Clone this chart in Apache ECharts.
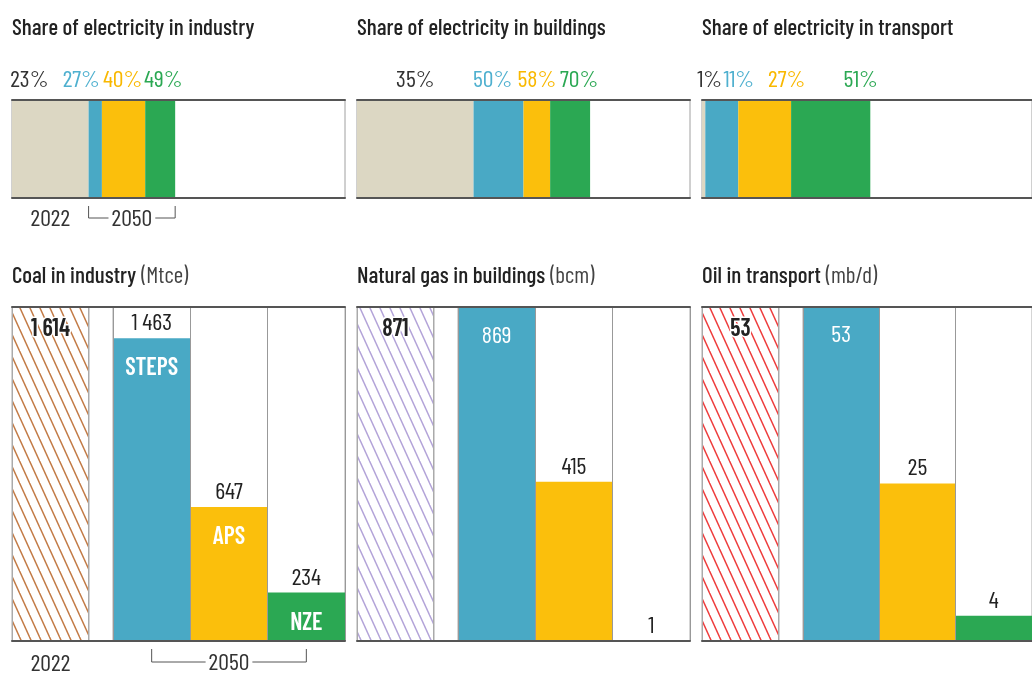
<!DOCTYPE html>
<html>
<head>
<meta charset="utf-8">
<script src="https://cdn.jsdelivr.net/npm/echarts@6/dist/echarts.min.js"></script>
<style>
  html, body { margin: 0; padding: 0; background: #fff; }
  #chart { width: 1032px; height: 677px; }
</style>
</head>
<body>
<div id="chart"></div>
<script>
// data
const scenarios = ['2022', 'STEPS', 'APS', 'NZE']
const shareTitles = ['Share of electricity in industry', 'Share of electricity in buildings', 'Share of electricity in transport']
const shareIndustry = [23, 27, 40, 49]
const shareBuildings = [35, 50, 58, 70]
const shareTransport = [1, 11, 27, 51]
const volTitles = ['Coal in industry', 'Natural gas in buildings', 'Oil in transport']
const volUnits = ['(Mtce)', '(bcm)', '(mb/d)']
const coalIndustry = [1614, 1463, 647, 234]
const gasBuildings = [871, 869, 415, 1]
const oilTransport = [53, 53, 25, 4]
const yearLabels = ['2022', '2050']

// styles
const FONT = "'Barlow Condensed', 'Roboto Condensed', 'DejaVu Sans Condensed', sans-serif"
const VAL = 24
const colors = ['#dcd7c3', '#49a9c5', '#fbbf0c', '#2ba853']
const labelColors = ['#333', '#4fb0cf', '#f9b800', '#2ba853']
const hatchColors = ['#c27a45', '#b3a3d8', '#ee3b3b']
const shareShift = [[-21, -14, -1, 3], [0, -6, 0, 9], [6, 17, 22, 30]]
const PW = 333
const panelLeft = (i) => 12 + i * 345

const shares = [shareIndustry, shareBuildings, shareTransport]
const volumes = [coalIndustry, gasBuildings, oilTransport]

function fmt(v) {
  return v >= 1000 ? Math.floor(v / 1000) + '\u2009' + String(v % 1000).padStart(3, '0') : String(v)
}

function hatch(color) {
  const c = document.createElement('canvas')
  c.width = 10
  c.height = 22
  const g = c.getContext('2d')
  g.strokeStyle = color
  g.lineWidth = 1.5
  for (const dx of [-10, 0, 10]) {
    g.beginPath()
    g.moveTo(dx - 1, -2.2)
    g.lineTo(dx + 11, 24.2)
    g.stroke()
  }
  return c
}

const grid = [], xAxis = [], yAxis = [], series = [], title = []
const addGrid = (o) => (grid.push(o), grid.length - 1)
const addX = (o) => (xAxis.push(o), xAxis.length - 1)
const addY = (o) => (yAxis.push(o), yAxis.length - 1)
const darkLine = { show: true, lineStyle: { color: '#555', width: 2 } }
const hidden = { axisTick: { show: false }, axisLabel: { show: false }, splitLine: { show: false } }

const refs = { top: [], bottom: [] }

for (let i = 0; i < 3; i++) {
  const L = panelLeft(i)
  const sh = shares[i]
  const v = volumes[i]

  title.push({
    left: L, top: 16, padding: 0, text: shareTitles[i],
    textStyle: { fontFamily: FONT, fontSize: 23, fontWeight: 500, color: '#222' },
  })
  title.push({
    left: L, top: 264, padding: 0, text: `{b|${volTitles[i]}} {n|${volUnits[i]}}`,
    textStyle: {
      rich: {
        b: { fontFamily: FONT, fontSize: 23, fontWeight: 500, color: '#222' },
        n: { fontFamily: FONT, fontSize: 23, fontWeight: 'normal', color: '#444' },
      },
    },
  })

  // share bar
  const g = addGrid({ left: L, top: 100, width: PW, height: 98, show: true, borderColor: '#a0a0a0', borderWidth: 1 })
  const xi = addX({ gridIndex: g, type: 'value', min: 0, max: 100, axisLine: darkLine, z: 10, ...hidden })
  addX({ gridIndex: g, type: 'value', position: 'top', min: 0, max: 100, axisLine: darkLine, z: 10, ...hidden })
  const yi = addY({ gridIndex: g, type: 'category', data: ['share'], show: false })
  refs.top.push(xi)
  sh.forEach((val, k) => {
    series.push({
      type: 'bar', stack: 'share' + i, xAxisIndex: xi, yAxisIndex: yi, barWidth: '100%',
      data: [val - (k ? sh[k - 1] : 0)],
      itemStyle: { color: colors[k] },
      label: {
        show: true, position: 'top', distance: 9, offset: [shareShift[i][k], 0],
        formatter: val + '%', color: labelColors[k], fontFamily: FONT, fontSize: VAL,
      },
    })
  })

  // volume bars: frame
  const gf = addGrid({ left: L, top: 307, width: PW, height: 334 })
  addX({ gridIndex: gf, type: 'value', min: 0, max: 1, axisLine: darkLine, z: 10, ...hidden })
  addX({ gridIndex: gf, type: 'value', position: 'top', min: 0, max: 1, axisLine: darkLine, z: 10, ...hidden })
  addY({ gridIndex: gf, type: 'value', min: 0, max: 1, show: false })

  // 2022 column
  const ga = addGrid({ left: L, top: 307, width: 77, height: 334, show: true, borderColor: '#aaa', borderWidth: 1 })
  const xa = addX({
    gridIndex: ga, type: 'category', data: [scenarios[0]],
    axisLine: { show: false }, axisTick: { show: false }, splitLine: { show: false },
    axisLabel: { show: i === 0, fontFamily: FONT, fontSize: VAL, color: '#333', margin: 10 },
  })
  const ya = addY({ gridIndex: ga, type: 'value', min: 0, max: v[0], show: false })
  series.push({
    type: 'bar', xAxisIndex: xa, yAxisIndex: ya, barWidth: '100%', data: [v[0]],
    itemStyle: { color: { image: hatch(hatchColors[i]), repeat: 'repeat' }, borderColor: '#aaa', borderWidth: 1 },
    label: {
      show: true, position: 'insideTop', distance: 9, formatter: fmt(v[0]),
      fontFamily: FONT, fontSize: VAL, fontWeight: 600, color: '#222', textBorderColor: '#fff', textBorderWidth: 3,
    },
  })

  // 2050 columns
  const gb = addGrid({ left: L + 101, top: 307, width: 232, height: 334, show: true, borderColor: '#aaa', borderWidth: 1 })
  const xb = addX({
    gridIndex: gb, type: 'category', data: scenarios.slice(1), z: 5,
    axisLine: { show: false }, axisTick: { show: false }, axisLabel: { show: false },
    splitLine: { show: true, lineStyle: { color: '#999', width: 1 } },
  })
  const yb = addY({ gridIndex: gb, type: 'value', min: 0, max: v[0], show: false })
  refs.bottom.push(xb)
  series.push({
    type: 'bar', xAxisIndex: xb, yAxisIndex: yb, barWidth: '100%', barGap: '-100%',
    data: v.slice(1).map((val, k) => {
      const inside = val / v[0] > 0.95
      return {
        value: val,
        itemStyle: { color: colors[k + 1] },
        label: inside
          ? { position: 'insideTop', distance: 15, color: '#fff' }
          : { position: 'top', distance: 4, color: '#222' },
      }
    }),
    label: { show: true, formatter: (p) => fmt(p.value), fontFamily: FONT, fontSize: VAL },
  })
  if (i === 0) {
    series.push({
      type: 'bar', xAxisIndex: xb, yAxisIndex: yb, barWidth: '100%', barGap: '-100%', z: 3,
      data: v.slice(1),
      itemStyle: { color: 'transparent' },
      label: {
        show: true, position: 'insideTop', distance: 17, formatter: (p) => p.name,
        fontFamily: FONT, fontSize: VAL, fontWeight: 600, color: '#fff',
      },
    })
  }
}

const chart = echarts.init(document.getElementById('chart'))
chart.setOption({ animation: false, backgroundColor: '#fff', title, grid, xAxis, yAxis, series })

// year labels and 2050 brackets (panel 1)
const yearFont = `${VAL}px ${FONT}`
const meas = document.createElement('canvas').getContext('2d')
meas.font = yearFont
const half = meas.measureText(yearLabels[1]).width / 2 + 3

function bracket(x1, x2, yTop, yLine) {
  const xm = (x1 + x2) / 2
  const ls = { stroke: '#555', lineWidth: 1, fill: null }
  return [
    { type: 'polyline', shape: { points: [[x1, yTop], [x1, yLine], [xm - half, yLine]] }, style: ls },
    { type: 'polyline', shape: { points: [[xm + half, yLine], [x2, yLine], [x2, yTop]] }, style: ls },
    { type: 'text', x: xm, y: yLine, style: { text: yearLabels[1], font: yearFont, fill: '#333', align: 'center', verticalAlign: 'middle' } },
  ]
}
const tx = (val) => chart.convertToPixel({ xAxisIndex: refs.top[0] }, val)
const bx = (cat) => chart.convertToPixel({ xAxisIndex: refs.bottom[0] }, cat)
const graphic = [
  { type: 'text', x: tx(shareIndustry[0] / 2), y: 218, style: { text: yearLabels[0], font: yearFont, fill: '#333', align: 'center', verticalAlign: 'middle' } },
  ...bracket(tx(shareIndustry[0]), tx(shareIndustry[3]), 206, 218),
  ...bracket(bx(scenarios[1]), bx(scenarios[3]), 649, 662),
]
chart.setOption({ graphic })
</script>
</body>
</html>
